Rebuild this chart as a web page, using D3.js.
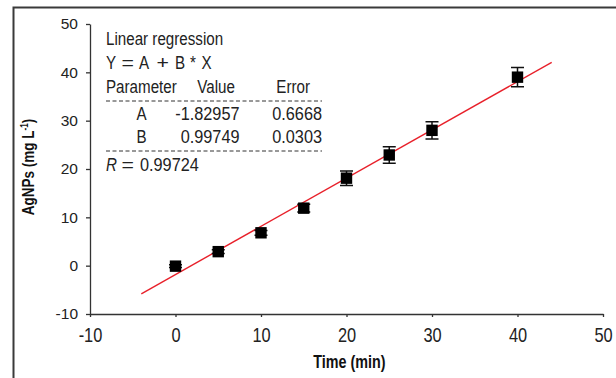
<!DOCTYPE html>
<html>
<head>
<meta charset="utf-8">
<script src="https://cdn.jsdelivr.net/npm/d3@7"></script>
<style>
  html, body { margin: 0; padding: 0; background: #fff; }
  svg { display: block; font-family: "Liberation Sans", Arial, sans-serif; }
  .axis path, .axis line { stroke: #333; stroke-width: 1.3; }
  .axis text { fill: #222; font-size: 15.5px; }
  .x-axis text { font-size: 20px; }
  .fit-text { fill: #222; font-size: 18.5px; }
  .title { fill: #111; font-weight: bold; }
</style>
</head>
<body>
<svg id="chart"></svg>
<script>
// ── Data ──
const times = [0, 5, 10, 15, 20, 25, 30, 40];            // min
const conc = [-0.1, 2.9, 6.8, 11.9, 18.1, 22.9, 28.0, 39.0]; // mg/L
const errs = [0.3, 0.4, 0.5, 0.8, 1.5, 1.7, 1.8, 2.0];

// regression fit A + B*X, drawn over this x range
const fitA = -1.82957;
const fitB = 0.99749;
const fitRange = [-4, 44];

const xTicks = [-10, 0, 10, 20, 30, 40, 50];
const yTicks = [-10, 0, 10, 20, 30, 40, 50];

// text box lines
const tableHead = ["Parameter", "Value", "Error"];
const tableRows = [
  ["A", "-1.82957", "0.6668"],
  ["B", "0.99749", "0.0303"]
];
const rValue = "0.99724";
const modelParts = ["Y", "=", "A", "+", "B", "*", "X"];

// ── Dimensions ──
const W = 616, H = 378;
const svg = d3.select("#chart").attr("width", W).attr("height", H);

const x = d3.scaleLinear().domain([-10, 50]).range([90, 603]);
const y = d3.scaleLinear().domain([-10, 50]).range([314, 24]);

// no narrow font installed -> squeeze regular glyphs horizontally
const NARROW = 0.82;
const NUM = 0.88;
const SYM = 1.15;               // math = and + are wider in the original
const plain = d => String(d);   // hyphen minus like the original

// ── Frame (top + left only) ──
svg.append("path")
  .attr("d", `M13.5,${H} V7.5 H${W}`)
  .attr("fill", "none")
  .attr("stroke", "#3a3a3a")
  .attr("stroke-width", 2);

// ── Axes ──
const xAxis = svg.append("g")
  .attr("class", "axis x-axis")
  .attr("transform", `translate(0,${y(-10)})`)
  .call(d3.axisBottom(x).tickValues(xTicks).tickFormat(plain).tickSize(3).tickSizeOuter(0));

xAxis.selectAll("text")
  .attr("y", 27.7)
  .attr("dy", null)
  .attr("transform", `scale(${NARROW},1)`);

svg.append("g")
  .attr("class", "axis")
  .attr("transform", `translate(${x(-10)},0)`)
  .call(d3.axisLeft(y).tickValues(yTicks).tickFormat(plain).tickSize(4).tickPadding(8).tickSizeOuter(0));

svg.selectAll(".axis .domain").attr("stroke-width", 1.5);

// ── Axis titles ──
svg.append("text")
  .attr("class", "title")
  .attr("font-size", 17.5)
  .attr("text-anchor", "middle")
  .attr("transform", `translate(349.5,368) scale(${NARROW},1)`)
  .text("Time (min)");

const yTitle = svg.append("text")
  .attr("class", "title")
  .attr("font-size", 16.5)
  .attr("text-anchor", "middle")
  .attr("transform", `translate(34,167) rotate(-90) scale(${NARROW},1)`);
yTitle.append("tspan").text("AgNPs (mg L");
yTitle.append("tspan").attr("dy", -6).attr("font-size", 10).text("-1");
yTitle.append("tspan").attr("dy", 6).text(")");

// ── Regression line ──
svg.append("line")
  .attr("x1", x(fitRange[0]))
  .attr("y1", y(fitA + fitB * fitRange[0]))
  .attr("x2", x(fitRange[1]))
  .attr("y2", y(fitA + fitB * fitRange[1]))
  .attr("stroke", "#e8202a")
  .attr("stroke-width", 1.4);

// ── Error bars + markers ──
const pts = times.map((t, i) => ({ t, c: conc[i], e: errs[i] }));
const cap = 6.5, half = 5.7;

const g = svg.append("g").selectAll("g")
  .data(pts)
  .join("g")
  .attr("transform", d => `translate(${x(d.t)},0)`);

g.append("path")
  .attr("d", d => {
    const y0 = y(d.c - d.e), y1 = y(d.c + d.e);
    return `M0,${y0}V${y1}M${-cap},${y0}H${cap}M${-cap},${y1}H${cap}`;
  })
  .attr("fill", "none")
  .attr("stroke", "#111")
  .attr("stroke-width", 1.5);

g.append("rect")
  .attr("x", -half)
  .attr("y", d => y(d.c) - half)
  .attr("width", half * 2)
  .attr("height", half * 2)
  .attr("fill", "#000");

// ── Fit results box ──
const box = svg.append("g").attr("class", "fit-text");
function put(str, xx, yy, anchor, sx) {
  return box.append("text")
    .attr("text-anchor", anchor || "start")
    .attr("transform", `translate(${xx},${yy}) scale(${sx || NARROW},1)`)
    .text(str);
}

put("Linear regression", 106, 45);

// model line: wide math spacing round = + *
const modelX = [106, 121.5, 139, 156.5, 175, 190, 201.5];
modelParts.forEach((s, i) => put(s, modelX[i], 68.5, "start", "=+".includes(s) ? SYM : NARROW));

put(tableHead[0], 106, 92.5);
put(tableHead[1], 235, 92.5, "end");
put(tableHead[2], 310, 92.5, "end");

const colEnds = [146.5, 239.5, 322];
tableRows.forEach((row, i) => {
  row.forEach((cell, j) => {
    put(cell, colEnds[j], 120 + i * 22.7, "end", j ? NUM : NARROW);
  });
});

[101, 151].forEach(yy => {
  svg.append("line")
    .attr("x1", 106).attr("x2", 322)
    .attr("y1", yy).attr("y2", yy)
    .attr("stroke", "#333")
    .attr("stroke-width", 1)
    .attr("stroke-dasharray", "4,2.5");
});

put("R", 106, 170.7).attr("font-style", "italic");
put("=", 121.5, 170.7, "start", SYM);
put(rValue, 140, 170.7, "start", NUM);
</script>
</body>
</html>
